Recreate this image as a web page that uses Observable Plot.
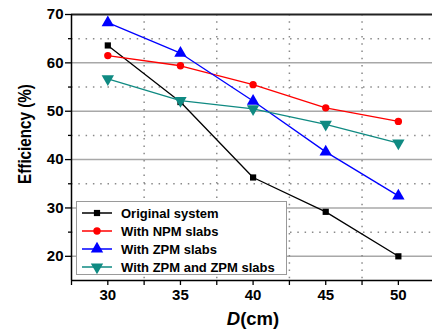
<!DOCTYPE html>
<html><head><meta charset="utf-8">
<script src="https://cdn.jsdelivr.net/npm/d3@7"></script>
<script src="https://cdn.jsdelivr.net/npm/@observablehq/plot@0.6"></script>
<style>
body{margin:0;background:#fff;}
#wrap{position:relative;width:432px;height:336px;font-family:"Liberation Sans",Arial,sans-serif;overflow:hidden;}
#wrap svg text{font-weight:bold;}
.lab{position:absolute;font-weight:bold;color:#000;white-space:nowrap;}
#legend{position:absolute;left:76px;top:201px;width:209px;height:72px;border:1px solid #9a9a9a;background:#fff;}
.row{position:absolute;left:0;height:18px;display:flex;align-items:center;}
.row span{font-weight:bold;font-size:13px;margin-left:4px;}
</style>
</head><body>
<div id="wrap"></div>
<script>
const D = [30, 35, 40, 45, 50];
const original = [63.6, 51.9, 36.3, 29.2, 20.0];
const npm = [61.5, 59.4, 55.5, 50.7, 47.9];
const zpm = [68.3, 62.0, 52.1, 41.6, 32.5];
const zpmZpm = [56.7, 52.2, 50.5, 47.3, 43.4];
const seriesNames = ["Original system", "With NPM slabs", "With ZPM slabs", "With ZPM and ZPM slabs"];
const seriesValues = [original, npm, zpm, zpmZpm];
const colors = ["#000000", "#ff0000", "#0000ff", "#0f8a82"];
const xMajor = [30, 35, 40, 45, 50];
const xMinor = [27.5, 32.5, 37.5, 42.5, 47.5, 52.5];
const yMajor = [20, 30, 40, 50, 60, 70];
const yMinor = [25, 35, 45, 55, 65];
const yGrid = [20, 30, 40, 50, 60];

const triangleDown = {
  draw(ctx, size) {
    const y = -Math.sqrt(size / (Math.sqrt(3) * 3));
    ctx.moveTo(0, -y * 2);
    ctx.lineTo(-Math.sqrt(3) * y, y);
    ctx.lineTo(Math.sqrt(3) * y, y);
    ctx.closePath();
  }
};
const symbols = ["square", "circle", "triangle", triangleDown];
const radii = [3.5, 3.7, 4.6, 4.6];

const rows = [];
seriesNames.forEach((s, i) => D.forEach((d, j) => rows.push({series: s, idx: i, D: d, eff: seriesValues[i][j]})));

const marks = [
  Plot.ruleY(yGrid, {stroke: "#a8a8a8", strokeWidth: 1.5}),
  Plot.ruleY(yMinor, {stroke: "#8a8a8a", strokeWidth: 1.5, strokeDasharray: "1.5,5.8"}),
  Plot.ruleX(xMinor.slice(1), {stroke: "#8a8a8a", strokeWidth: 1.5, strokeDasharray: "1.5,5.8"}),
  Plot.ruleY([70], {stroke: "#222", strokeWidth: 2.2}),
  Plot.ruleX([27.5], {stroke: "#000", strokeWidth: 1.5}),
  Plot.ruleY([15], {stroke: "#000", strokeWidth: 1.5}),
  Plot.axisY(yMajor, {tickSize: 6, tickPadding: 2, fontSize: 15, label: null, stroke: "#000", strokeWidth: 1.3}),
  Plot.axisY(yMinor, {tickSize: 3, tickFormat: () => "", label: null, stroke: "#000", strokeWidth: 1.3}),
  Plot.axisX(xMajor, {tickSize: 5, tickPadding: 4, fontSize: 15, label: null, stroke: "#000", strokeWidth: 1.3}),
  Plot.axisX(xMinor, {tickSize: 5, tickFormat: () => "", label: null, stroke: "#000", strokeWidth: 1.3})
];
seriesNames.forEach((s, i) => {
  const data = rows.filter(r => r.idx === i);
  marks.push(Plot.line(data, {x: "D", y: "eff", stroke: colors[i], strokeWidth: 1.3}));
  marks.push(Plot.dot(data, {x: "D", y: "eff", fill: colors[i], stroke: "none", symbol: () => symbols[i], r: radii[i]}));
});

const chart = Plot.plot({
  width: 432, height: 336,
  marginTop: 14, marginBottom: 56, marginLeft: 71, marginRight: 0,
  style: {fontFamily: "'Liberation Sans', Arial, sans-serif", fontSize: "15px", color: "#000", background: "transparent"},
  x: {domain: [27.5, 52.35]},
  y: {domain: [15, 70]},
  marks
});
const wrap = document.getElementById("wrap");
wrap.appendChild(chart);

// axis labels
const yl = document.createElement("div");
yl.className = "lab";
yl.style.cssText = "left:25px;top:134px;font-size:17.5px;transform:translate(-50%,-50%) rotate(-90deg) scale(0.87,1);";
yl.textContent = "Efficiency (%)";
wrap.appendChild(yl);
const xl = document.createElement("div");
xl.className = "lab";
xl.style.cssText = "left:253px;top:319px;font-size:18.5px;transform:translate(-50%,-50%);";
xl.innerHTML = "<i>D</i>(cm)";
wrap.appendChild(xl);

// legend
const lg = document.createElement("div");
lg.id = "legend";
seriesNames.forEach((s, i) => {
  const row = document.createElement("div");
  row.className = "row";
  row.style.top = (2 + i * 18) + "px";
  const sym = d3.symbol(typeof symbols[i] === "string" ? d3["symbol" + symbols[i][0].toUpperCase() + symbols[i].slice(1)] : symbols[i], Math.PI * radii[i] * radii[i])();
  row.innerHTML = `<svg width="40" height="18"><line x1="5" x2="35" y1="9" y2="9" stroke="${colors[i]}" stroke-width="1.5"/><path transform="translate(20,9)" d="${sym}" fill="${colors[i]}"/></svg><span>${s}</span>`;
  lg.appendChild(row);
});
wrap.appendChild(lg);
</script>
</body></html>
